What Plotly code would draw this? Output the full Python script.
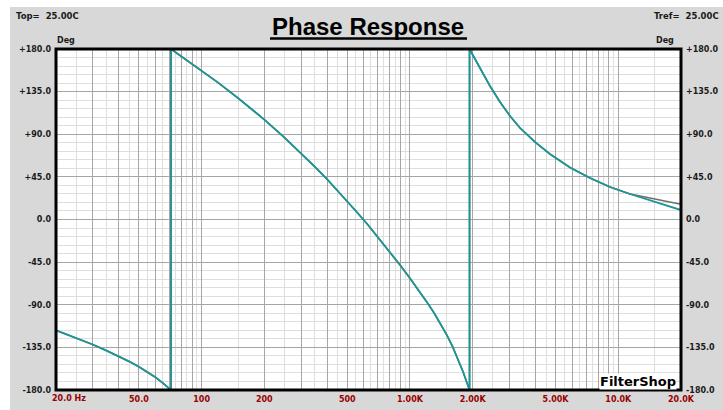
import math
import plotly.graph_objects as go

# ---- data -------------------------------------------------------------
# frequency points (Hz); wrap points are listed twice (-180 -> +180)
freq_hz = [
    20, 25, 30, 35, 40, 45, 50, 55, 60, 65, 71.3,
    71.3, 80, 90, 100, 120, 150, 175, 200, 250, 300, 350, 400, 475, 550, 625, 700,
    800, 900, 1000, 1100, 1200, 1300, 1400, 1500, 1600, 1700, 1800, 1932,
    1932, 2169, 2422, 2706, 3022, 3376, 3983, 4700, 5866, 7317, 9127, 11383, 15006, 20000,
]
# phase of the filter response (deg)
phase_main = [
    -117, -125, -132, -138.5, -144.5, -150, -155.5, -161, -166.5, -172.5, -180,
    180, 172.2, 164.3, 157.2, 144.5, 128.0, 116.3, 105.5, 86.5, 70, 55.5, 42.5, 25, 9, -5, -18.5,
    -34, -48.5, -62, -74.5, -86.5, -98, -110, -121.5, -134, -147, -161, -180,
    180, 159.9, 140.9, 124.0, 109.3, 96.6, 81.8, 69.1, 54.9, 43.8, 34.3, 26.9, 18.4, 10.0,
]
# reference phase curve (deg)
phase_ref = [
    -117, -125, -132, -138.5, -144.5, -150, -155.5, -161, -166.5, -172.5, -180,
    180, 172.2, 164.3, 157.2, 144.5, 128.0, 116.3, 105.5, 86.5, 70, 55.5, 42.5, 25, 9, -5, -18.5,
    -34, -48.5, -62, -74.5, -86.5, -98, -110, -121.5, -134, -147, -161, -180,
    180, 159.9, 140.9, 124.0, 109.3, 96.6, 81.8, 69.1, 54.9, 43.8, 34.3, 26.9, 21.6, 16.0,
]

x_label_freqs = [50, 100, 200, 500, 1000, 2000, 5000, 10000, 20000]
x_label_text = ["50.0", "100", "200", "500", "1.00K", "2.00K", "5.00K", "10.0K", "20.0K"]
y_label_vals = [180, 135, 90, 45, 0, -45, -90, -135, -180]
y_label_text = ["+180.0", "+135.0", "+90.0", "+45.0", "0.0", "-45.0", "-90.0", "-135.0", "-180.0"]

# ---- layout geometry --------------------------------------------------
W, H = 723, 410
ML, MR, MT, MB = 56, 42, 49, 20
PW, PH = W - ML - MR, H - MT - MB


def px(x):
    return (x - ML) / PW


def py(y):
    return (H - MB - y) / PH


# log grid: every integer step and every half step within each decade
grid_major, grid_minor = [], []
for dec in (10, 100, 1000, 10000):
    for k in range(1, 10):
        if 20 <= k * dec <= 20000:
            grid_major.append(k * dec)
        if 20 <= (k + 0.5) * dec <= 20000:
            grid_minor.append((k + 0.5) * dec)

x_ticktext = []
for f in grid_major:
    x_ticktext.append(x_label_text[x_label_freqs.index(f)] if f in x_label_freqs else "")

LBL = dict(family="DejaVu Sans", size=8, color="#1a1a1a", weight="bold")
XLBL = dict(family="DejaVu Sans", size=8, color="#990000", weight="bold")

fig = go.Figure()
fig.add_trace(go.Scatter(x=freq_hz, y=phase_ref, mode="lines",
                         line=dict(color="#6e6e6e", width=1.6), hoverinfo="skip"))
fig.add_trace(go.Scatter(x=freq_hz, y=phase_main, mode="lines",
                         line=dict(color="#1b9696", width=1.8), hoverinfo="skip"))
fig.add_trace(go.Scatter(x=[100], y=[0], yaxis="y2", mode="markers",
                         marker=dict(opacity=0), hoverinfo="skip"))

fig.update_layout(
    width=W, height=H,
    margin=dict(l=ML, r=MR, t=MT, b=MB, pad=0, autoexpand=False),
    paper_bgcolor="#d8d8d8",
    plot_bgcolor="#ffffff",
    showlegend=False,
    xaxis=dict(
        type="log", range=[math.log10(20), math.log10(20000)], automargin=False,
        tickmode="array", tickvals=grid_major, ticktext=x_ticktext,
        showgrid=True, gridcolor="#a6a6a6", gridwidth=1,
        minor=dict(tickvals=grid_minor, showgrid=True, gridcolor="#dedede", gridwidth=1),
        zeroline=False, showline=False, ticks="", tickfont=XLBL, ticklabelstandoff=3,
    ),
    yaxis=dict(
        range=[-180, 180], automargin=False,
        tickmode="array", tickvals=y_label_vals, ticktext=y_label_text,
        showgrid=True, gridcolor="#a6a6a6", gridwidth=1,
        minor=dict(tick0=0, dtick=9, showgrid=True, gridcolor="#dedede", gridwidth=1),
        zeroline=False, showline=False, ticks="", tickfont=LBL, ticklabelstandoff=4,
    ),
    yaxis2=dict(
        range=[-180, 180], overlaying="y", side="right", anchor="x", automargin=False,
        tickmode="array", tickvals=y_label_vals, ticktext=y_label_text,
        showgrid=False, zeroline=False, showline=False, ticks="", tickfont=LBL,
        ticklabelstandoff=4,
    ),
)

shapes = [
    # white strips along the left and top edges
    dict(type="rect", xref="paper", yref="paper", x0=px(0), x1=px(10), y0=py(H), y1=py(0),
         fillcolor="#ffffff", line=dict(width=0), layer="below"),
    dict(type="rect", xref="paper", yref="paper", x0=px(0), x1=px(W), y0=py(7), y1=py(0),
         fillcolor="#ffffff", line=dict(width=0), layer="below"),
    # plot frame
    dict(type="rect", xref="paper", yref="paper", x0=0, x1=1, y0=0, y1=1,
         line=dict(color="#000000", width=3), layer="above"),
    # title underline
    dict(type="line", xref="paper", yref="paper", x0=px(270), x1=px(467), y0=py(38.5), y1=py(38.5),
         line=dict(color="#000000", width=2.5)),
]
fig.update_layout(shapes=shapes)

annos = [
    dict(text="Phase Response", x=px(368), y=py(26), xanchor="center", yanchor="middle",
         font=dict(family="Liberation Sans", size=24, color="#000000", weight="bold")),
    dict(text="Top=\u00a0\u00a025.00C", x=px(14), y=py(15.5), xanchor="left", yanchor="middle",
         font=dict(family="DejaVu Sans", size=8.5, color="#1a1a1a", weight="bold")),
    dict(text="Tref=\u00a0\u00a025.00C", x=px(721), y=py(15.5), xanchor="right", yanchor="middle",
         font=dict(family="DejaVu Sans", size=8.5, color="#1a1a1a", weight="bold")),
    dict(text="Deg", x=px(55), y=py(40.5), xanchor="left", yanchor="middle", font=LBL),
    dict(text="Deg", x=px(676), y=py(40.5), xanchor="right", yanchor="middle", font=LBL),
    dict(text="20.0 Hz", x=px(50), y=py(398.5), xanchor="left", yanchor="middle", font=XLBL),
    dict(text="FilterShop", x=px(677), y=py(381.5), xanchor="right", yanchor="middle",
         bgcolor="#ffffff", borderpad=0,
         font=dict(family="DejaVu Sans", size=13, color="#000000", weight="bold")),
]
for a in annos:
    a.update(xref="paper", yref="paper", showarrow=False)
fig.update_layout(annotations=annos)

fig.write_html("out.html")
